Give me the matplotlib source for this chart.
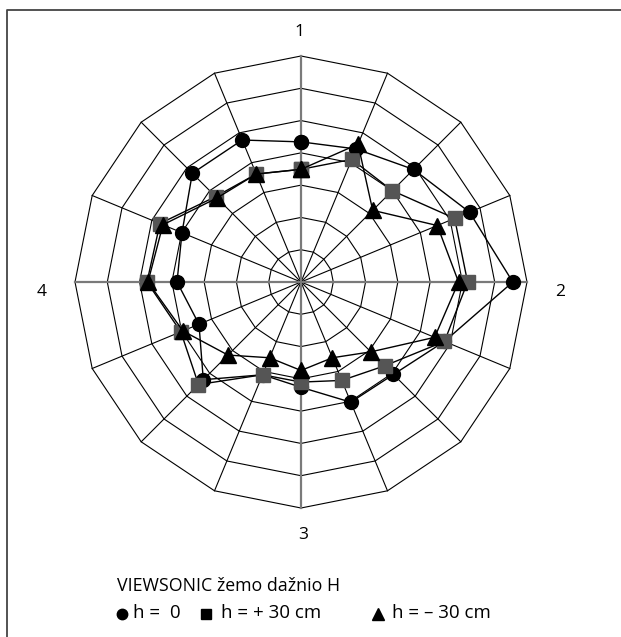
import numpy as np
import matplotlib
matplotlib.use("Agg")
import matplotlib.pyplot as plt
from matplotlib.lines import Line2D

# ---- data (radial values, 16 directions clockwise from "1") ----
n_dir = 16
ring_levels = [1, 2, 3, 4, 5, 6, 7]
dir_labels = ["1", "2", "3", "4"]
h0 = [4.34, 4.46, 4.93, 5.65, 6.56, 4.81, 4.05, 4.03,
      3.26, 3.11, 4.28, 3.42, 3.84, 3.99, 4.76, 4.76]
h_plus30 = [3.49, 4.11, 4.00, 5.15, 5.16, 4.81, 3.67, 3.30,
            3.10, 3.11, 4.49, 4.03, 4.77, 4.73, 3.74, 3.62]
h_minus30 = [3.49, 4.62, 3.14, 4.57, 4.88, 4.48, 3.06, 2.54,
             2.74, 2.54, 3.20, 3.96, 4.74, 4.63, 3.68, 3.62]
title_text = "VIEWSONIC žemo dažnio H"
legend_labels = ["h =  0", "h = + 30 cm", "h = \u2013 30 cm"]

W, H = 621, 637
fig = plt.figure(figsize=(W / 100, H / 100), dpi=100)
fam = ["Open Sans", "DejaVu Sans"]

cx, cy, R = 301, 282, 226
ax = fig.add_axes([(cx - R) / W, (H - cy - R) / H, 2 * R / W, 2 * R / H],
                  projection="polar")
ax.set_theta_zero_location("N")
ax.set_theta_direction(-1)
ax.set_ylim(0, ring_levels[-1])
ax.axis("off")

theta = np.arange(n_dir) * 2 * np.pi / n_dir
theta_c = np.append(theta, theta[0])

# polygon rings
for lv in ring_levels:
    ax.plot(theta_c, [lv] * (n_dir + 1), color="black", lw=0.8,
            clip_on=False, zorder=1)
# spokes
for i, t in enumerate(theta):
    main = (i % 4 == 0)
    ax.plot([t, t], [0, ring_levels[-1]],
            color="#7a7a7a" if main else "black",
            lw=1.6 if main else 0.8, clip_on=False, zorder=1 if not main else 1.1)

def closed(v):
    return list(v) + [v[0]]

ax.plot(theta_c, closed(h0), color="black", lw=1.0, marker="o", ms=10,
        mfc="black", mec="black", clip_on=False, zorder=3)
ax.plot(theta_c, closed(h_plus30), color="black", lw=1.0, marker="s", ms=10.5,
        mfc="#555555", mec="#555555", clip_on=False, zorder=4)
ax.plot(theta_c, closed(h_minus30), color="black", lw=1.0, marker="^", ms=12,
        mfc="black", mec="black", clip_on=False, zorder=5)

# direction labels
lab_pos = [(299, 32), (560, 292), (303, 535), (42, 292)]
for lab, (x, y) in zip(dir_labels, lab_pos):
    fig.text(x / W, 1 - y / H, lab, ha="center", va="center",
             fontsize=12.5, family=fam)

# legend
fig.text(117 / W, 1 - 586 / H, title_text, ha="left", va="center",
         fontsize=12.8, family=fam)
ly = 1 - 613 / H
mk_y = 1 - 614 / H
for mx, mk, ms in [(122, "o", 7.5), (206, "s", 7.5), (378, "^", 9)]:
    fig.add_artist(Line2D([mx / W], [mk_y], marker=mk, ms=ms, color="black",
                          mec="black", lw=0, transform=fig.transFigure))
fig.text(133 / W, ly, legend_labels[0], ha="left", va="center", fontsize=13.5, family=fam)
fig.text(221 / W, ly, legend_labels[1], ha="left", va="center", fontsize=13.5, family=fam)
fig.text(392 / W, ly, legend_labels[2], ha="left", va="center", fontsize=13.5, family=fam)

# partial frame (top and left edges)
fig.add_artist(Line2D([6.5 / W, 6.5 / W, 1], [0, 1 - 9.5 / H, 1 - 9.5 / H],
                      transform=fig.transFigure, color="#444444", lw=1.3))

fig.savefig("out.png", dpi=100)
